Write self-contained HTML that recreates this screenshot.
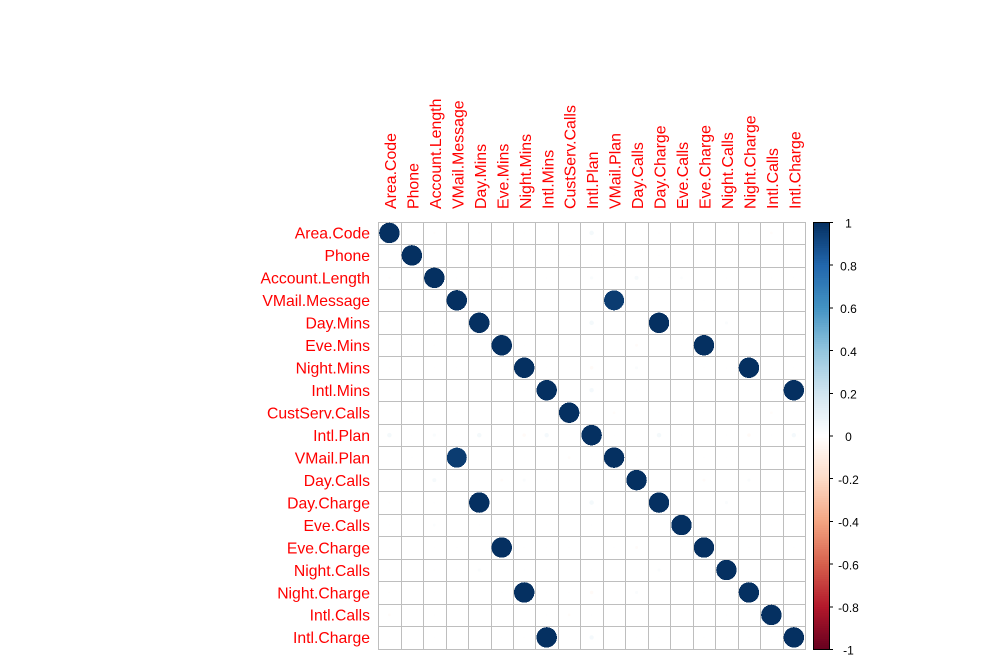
<!DOCTYPE html>
<html lang="en">
<head>
<meta charset="utf-8">
<title>Correlation matrix</title>
<style>
html,body{margin:0;padding:0;background:#fff;}
svg{display:block;}
text{font-family:"Liberation Sans",Arial,sans-serif;}
</style>
</head>
<body>
<svg id="chart" xmlns="http://www.w3.org/2000/svg" width="996" height="664" viewBox="0 0 996 664">
  <rect x="0" y="0" width="996" height="664" fill="#ffffff"/>
  <g id="grid" shape-rendering="crispEdges"></g>
  <g id="marks"></g>
  <g id="rowLabels"></g>
  <g id="colLabels"></g>
  <g id="legend"></g>
</svg>
<script>
const variables = ["Area.Code","Phone","Account.Length","VMail.Message","Day.Mins","Eve.Mins","Night.Mins","Intl.Mins","CustServ.Calls","Intl.Plan","VMail.Plan","Day.Calls","Day.Charge","Eve.Calls","Eve.Charge","Night.Calls","Night.Charge","Intl.Calls","Intl.Charge"];
const correlations = [
  [1,.002,-.012,-.002,-.008,.004,-.006,-.004,.003,.049,-.001,-.004,-.008,-.004,.004,.004,-.006,-.018,-.004],
  [.002,1,.001,.002,.004,.004,.002,.004,.006,.005,.004,.002,.004,.002,.002,.003,.002,.001,.002],
  [-.012,.001,1,-.005,.006,-.007,-.003,.004,-.004,.025,.003,.038,.006,.019,-.004,-.006,-.004,.005,.004],
  [-.002,.002,-.005,1,.001,.003,.004,.003,-.004,.004,.957,-.004,.001,-.003,.004,.004,.004,.002,.003],
  [-.008,.004,.006,.001,1,.002,.002,-.003,-.004,.049,-.002,.004,1,.004,.002,.023,.002,.003,-.003],
  [.004,.004,-.007,.003,.002,1,-.004,-.003,-.003,.004,.003,-.021,.002,-.003,1,.003,-.004,.002,-.003],
  [-.006,.002,-.003,.004,.002,-.004,1,-.004,-.004,-.029,.003,.023,.002,.003,-.004,.005,1,-.003,-.004],
  [-.004,.004,.004,.003,-.003,-.003,-.004,1,-.003,.046,-.002,.004,-.003,.003,-.003,-.003,-.004,.005,1],
  [.003,.006,-.004,-.004,-.004,-.003,-.004,-.003,1,-.004,-.018,-.004,-.003,.002,-.003,-.003,-.003,-.018,-.003],
  [.049,.005,.025,.004,.049,.004,-.029,.046,-.004,1,.004,.003,.049,.005,.004,.004,-.029,.004,.046],
  [-.001,.004,.003,.957,-.002,.003,.003,-.002,-.018,.004,1,-.003,-.002,.002,.004,.004,.003,.002,-.002],
  [-.004,.002,.038,-.004,.004,-.021,.023,.004,-.004,.003,-.003,1,.004,.002,-.021,.003,.023,.003,.004],
  [-.008,.004,.006,.001,1,.002,.002,-.003,-.003,.049,-.002,.004,1,.003,.002,.023,.002,.003,-.003],
  [-.004,.002,.019,-.003,.004,-.003,.003,.003,.002,.005,.002,.002,.003,1,-.003,.003,.002,.003,.003],
  [.004,.002,-.004,.004,.002,1,-.004,-.003,-.003,.004,.004,-.021,.002,-.003,1,.003,-.004,.002,-.003],
  [.004,.003,-.006,.004,.023,.003,.005,-.003,-.003,.004,.004,.003,.023,.003,.003,1,.005,-.003,-.003],
  [-.006,.002,-.004,.004,.002,-.004,1,-.004,-.003,-.029,.003,.023,.002,.002,-.004,.005,1,-.003,-.004],
  [-.018,.001,.005,.002,.003,.002,-.003,.005,-.018,.004,.002,.003,.003,.003,.002,-.003,-.003,1,.004],
  [-.004,.002,.004,.003,-.003,-.003,-.004,1,-.003,.046,-.002,.004,-.003,.003,-.003,-.003,-.004,.004,1]
];
const legendTicks = [1,0.8,0.6,0.4,0.2,0,-0.2,-0.4,-0.6,-0.8,-1];
const palette = ["#67001F","#B2182B","#D6604D","#F4A582","#FDDBC7","#FFFFFF","#D1E5F0","#92C5DE","#4393C3","#2166AC","#053061"];

const NS = "http://www.w3.org/2000/svg";
const plot = {x0:378.65, y0:222.1, step:22.47};
const bar = {left:813.5, right:829.5, top:222.5, bottom:649.5};

function make(tag, attrs, parent){
  const el = document.createElementNS(NS, tag);
  for (const k in attrs) el.setAttribute(k, attrs[k]);
  parent.appendChild(el);
  return el;
}
function gridX(k){ return Math.floor(plot.x0 + k*plot.step) + 0.5; }
function gridY(k){ return Math.floor(plot.y0 + k*plot.step) + 0.5; }
function centerX(k){ return plot.x0 + (k+0.5)*plot.step - 0.5; }
function centerY(k){ return plot.y0 + (k+0.5)*plot.step - 0.4; }
function radius(v){ return 0.455*plot.step*Math.sqrt(Math.abs(v)); }
function valueToY(v){ return bar.top + (1-v)/2*(bar.bottom-bar.top); }
function hexToRgb(h){ return [1,3,5].map(function(i){ return parseInt(h.substr(i,2),16); }); }
function colorOf(v){
  const t = Math.max(0, Math.min(1,(v+1)/2)) * (palette.length-1);
  const i = Math.min(palette.length-2, Math.floor(t));
  const f = t-i;
  const a = hexToRgb(palette[i]), b = hexToRgb(palette[i+1]);
  return "rgb(" + a.map(function(c,n){ return Math.round(c+(b[n]-c)*f); }).join(",") + ")";
}

const n = variables.length;
const gridG = document.getElementById("grid");
for (let k=0; k<=n; k++){
  const vl = make("line",{x1:gridX(k),x2:gridX(k),y1:gridY(0)-0.5,y2:gridY(n)+0.5,stroke:"#BEBEBE","stroke-width":1},gridG);
  
  
  const hl = make("line",{x1:gridX(0)-0.5,x2:gridX(n)+0.5,y1:gridY(k),y2:gridY(k),stroke:"#BEBEBE","stroke-width":1},gridG);
  
  
}

const marksG = document.getElementById("marks");
correlations.forEach(function(row,r){
  row.forEach(function(v,c){
    const dot = make("circle",{cx:centerX(c),cy:centerY(r),r:radius(v),fill:colorOf(v),"shape-rendering":Math.abs(v)>0.5?"crispEdges":"auto"},marksG);
    
    
  });
});

const rowG = document.getElementById("rowLabels");
const colG = document.getElementById("colLabels");
variables.forEach(function(name,i){
  const rl = make("text",{x:370,y:centerY(i)+5.8,"text-anchor":"end","font-size":15.75,fill:"#FF0000"},rowG);
  rl.textContent = name;
  
  
  const cx = centerX(i)+6.6;
  const cl = make("text",{x:cx,y:209,"text-anchor":"start","font-size":15.9,fill:"#FF0000",transform:"rotate(-90 "+cx+" 209)"},colG);
  cl.textContent = name;
  
  
});

const legendG = document.getElementById("legend");
const bins = 200;
const binH = (bar.bottom-bar.top)/bins;
for (let i=0; i<bins; i++){
  const binValue = 1-(i+0.5)*2/bins;
  const seg = make("rect",{x:bar.left,y:bar.top+i*binH,width:bar.right-bar.left,height:binH+0.6,fill:colorOf(binValue),"shape-rendering":"crispEdges"},legendG);
  
  
}
const frame = make("rect",{x:bar.left,y:bar.top,width:bar.right-bar.left,height:bar.bottom-bar.top,fill:"none",stroke:"#000","stroke-width":1,"shape-rendering":"crispEdges"},legendG);


legendTicks.forEach(function(v){
  const y = valueToY(v);
  const tick = make("line",{x1:bar.right,x2:bar.right+3.5,y1:y,y2:y,stroke:"#000","stroke-width":1,"shape-rendering":"crispEdges"},legendG);
  
  
  const label = make("text",{x:848.5,y:y+5.2,"text-anchor":"middle","font-size":12,fill:"#000"},legendG);
  label.textContent = String(v);
  
  
});
</script>
</body>
</html>
